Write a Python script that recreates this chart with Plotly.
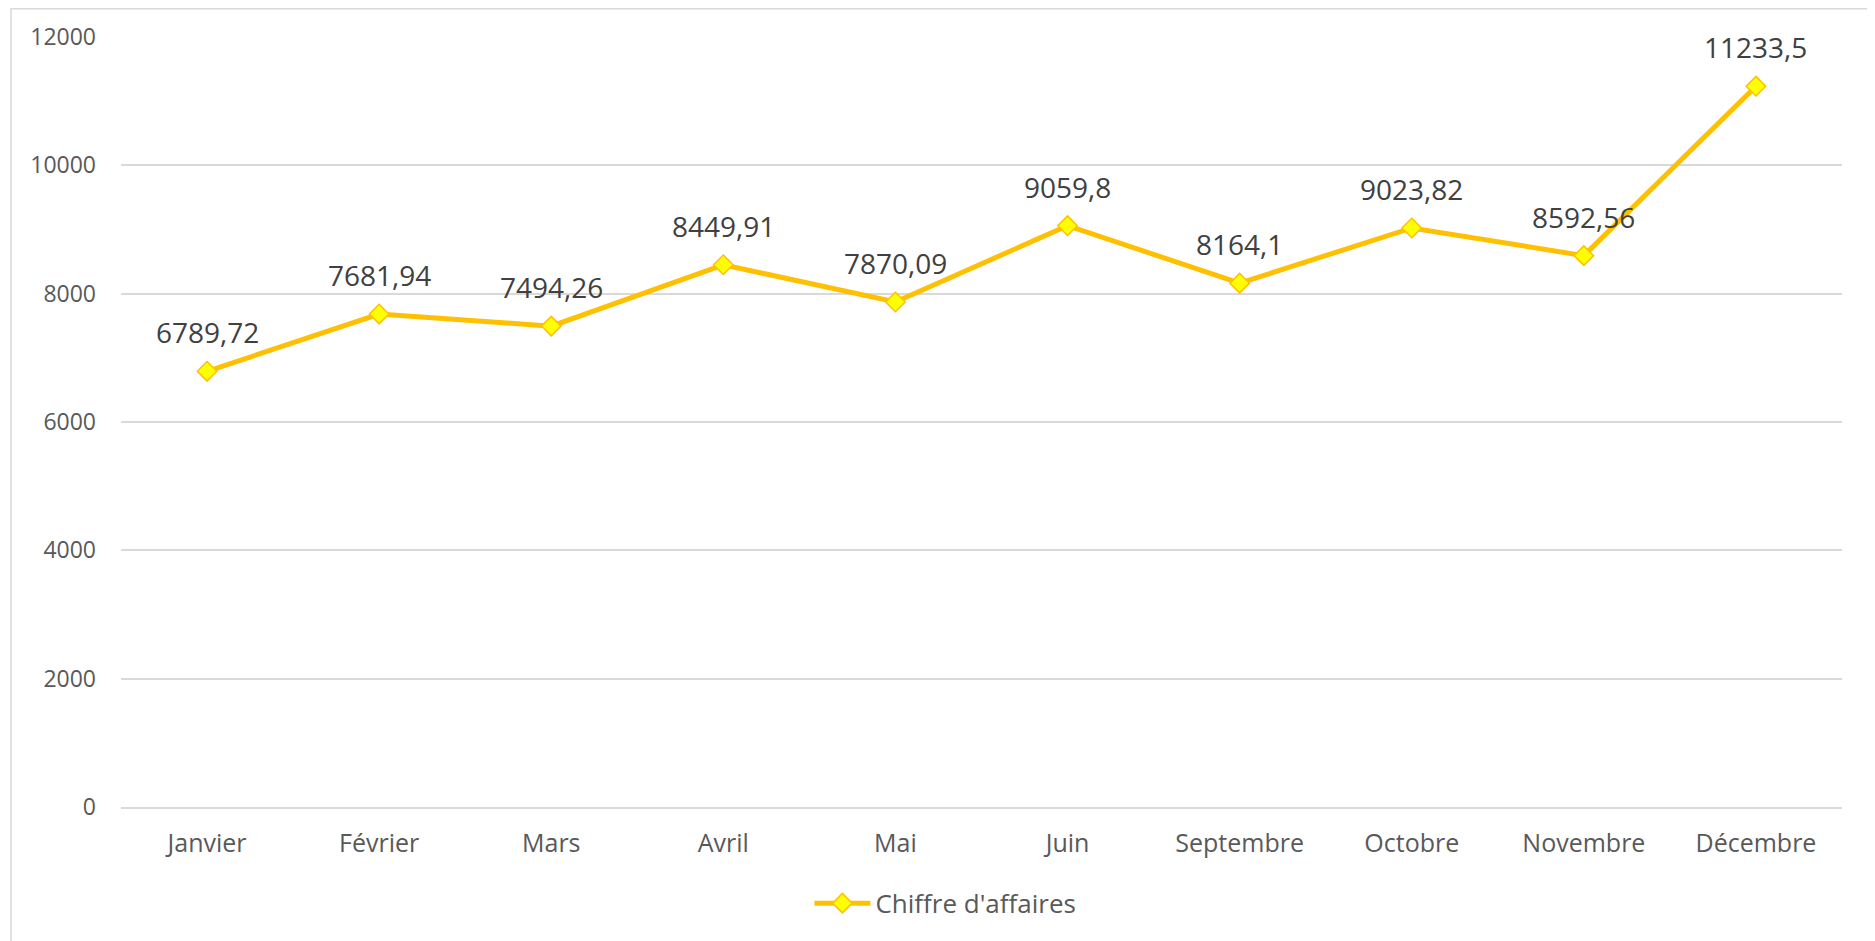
import plotly.graph_objects as go

months = ["Janvier", "Février", "Mars", "Avril", "Mai", "Juin",
          "Septembre", "Octobre", "Novembre", "Décembre"]
chiffre = [6789.72, 7681.94, 7494.26, 8449.91, 7870.09, 9059.8,
           8164.1, 9023.82, 8592.56, 11233.5]
y_ticks = [0, 2000, 4000, 6000, 8000, 10000, 12000]
y_ticktext = ["0", "2000", "4000", "6000", "8000", "10000", "12000"]
series_name = "Chiffre d'affaires"

labels = [f"{v:g}".replace(".", ",") for v in chiffre]

FONT = "Open Sans, Liberation Sans, sans-serif"

fig = go.Figure()
fig.add_trace(go.Scatter(
    x=months, y=chiffre, mode="lines+markers", name=series_name,
    line=dict(color="#FFC000", width=5),
    marker=dict(symbol="diamond", size=15, color="#FFFF00",
                line=dict(color="#FFC000", width=1.5)),
    showlegend=True,
))

for m, v, t in zip(months, chiffre, labels):
    fig.add_annotation(x=m, y=v, text=t, showarrow=False, yshift=39,
                       font=dict(family=FONT, size=28, color="#404040"))

# chart border
fig.add_shape(type="rect", xref="paper", yref="paper",
              x0=-0.0639, x1=1.0157, y0=-0.19, y1=1.0367,
              line=dict(color="#D9D9D9", width=1.5), layer="below")

fig.update_layout(
    width=1867, height=933,
    margin=dict(l=113, r=33, t=29, b=134),
    paper_bgcolor="white", plot_bgcolor="white",
    font=dict(family=FONT, size=23, color="#595959"),
    xaxis=dict(range=[-0.5, len(months) - 0.5], showgrid=False, showline=True,
               linecolor="#D9D9D9", linewidth=1.5,
               ticks="", ticklabelstandoff=13, tickfont=dict(size=25, color="#595959")),
    yaxis=dict(range=[0, 12000], tickvals=y_ticks, ticktext=y_ticktext, showgrid=True,
               gridcolor="#D9D9D9", gridwidth=1.5, zeroline=False, showline=False,
               ticks="", ticklabelstandoff=24, tickfont=dict(size=23, color="#595959")),
    legend=dict(orientation="h", x=0.4, xanchor="left", y=-0.125, yanchor="middle",
                itemwidth=56,
                font=dict(size=26, color="#595959"), bgcolor="rgba(0,0,0,0)"),
    showlegend=True,
)

fig.write_html("out.html")
